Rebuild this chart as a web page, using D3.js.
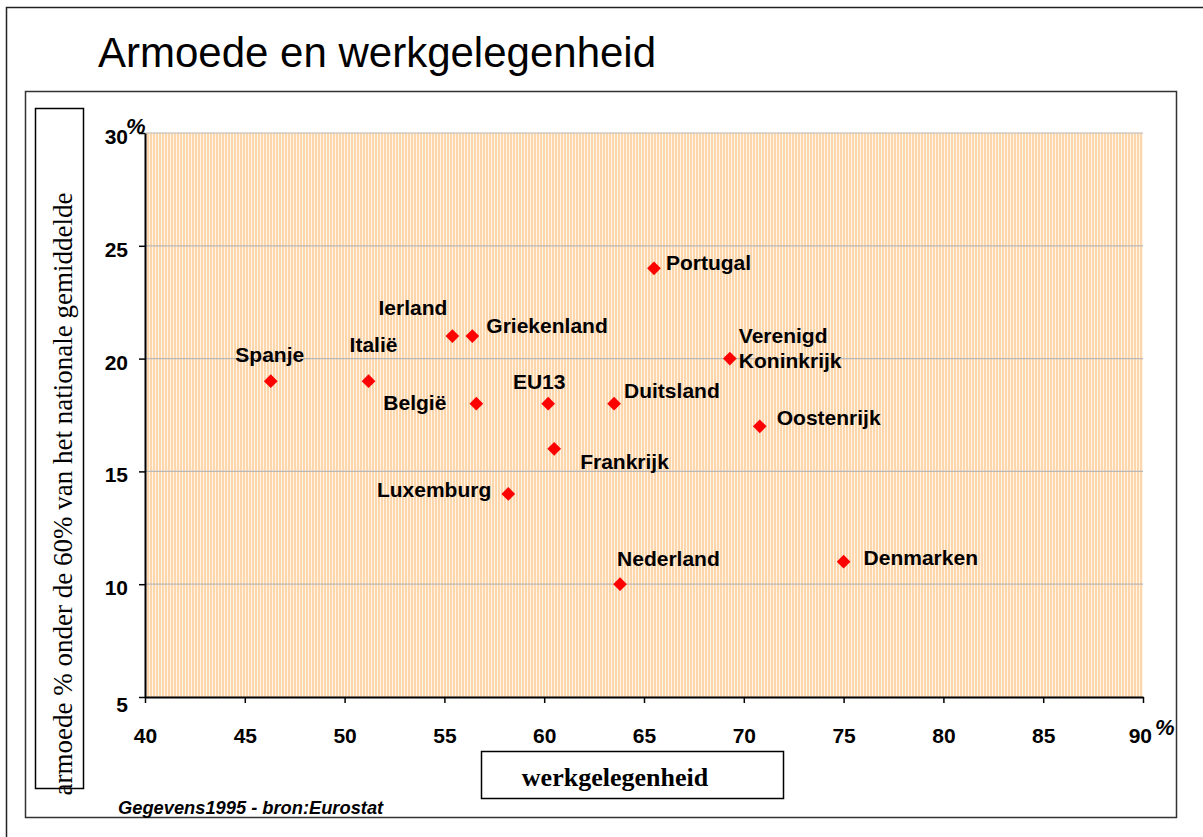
<!DOCTYPE html>
<html>
<head>
<meta charset="utf-8">
<script src="https://cdn.jsdelivr.net/npm/d3@7"></script>
<style>
  body { margin: 0; background: #fff; }
  svg { display: block; }
</style>
</head>
<body>
<svg id="chart"></svg>
<script>
// Data
const countries = ["Spanje", "Italië", "Ierland", "Griekenland", "België", "Luxemburg", "EU13",
  "Frankrijk", "Duitsland", "Nederland", "Portugal", "Verenigd Koninkrijk", "Oostenrijk", "Denmarken"];
const employment = [46.3, 51.2, 55.4, 56.4, 56.6, 58.2, 60.2, 60.5, 63.5, 63.8, 65.5, 69.3, 70.8, 75.0];
const poverty = [19, 19, 21, 21, 18, 14, 18, 16, 18, 10, 24, 20, 17, 11];
const xTicks = [40, 45, 50, 55, 60, 65, 70, 75, 80, 85, 90];
const yTicks = [5, 10, 15, 20, 25, 30];

// label placement relative to each point: [dx, dy, anchor]
const labelPlace = {
  "Spanje": [-1, -19, "middle"],
  "Italië": [5, -29, "middle"],
  "Ierland": [-5, -21, "end"],
  "Griekenland": [14, -3, "start"],
  "België": [-30, 6, "end"],
  "Luxemburg": [-17, 3, "end"],
  "EU13": [-9, -15, "middle"],
  "Frankrijk": [26, 20, "start"],
  "Duitsland": [10, -6, "start"],
  "Nederland": [-3, -18, "start"],
  "Portugal": [12, 2, "start"],
  "Verenigd Koninkrijk": [9, -16, "start"],
  "Oostenrijk": [17, -1, "start"],
  "Denmarken": [20, 3, "start"]
};

const width = 1203, height = 837;
const svg = d3.select("#chart").attr("width", width).attr("height", height);

const data = countries.map((c, i) => ({ name: c, x: employment[i], y: poverty[i] }));

// outer frame and inner chart box
svg.append("rect").attr("x", 6.5).attr("y", 7.5).attr("width", 1250).attr("height", 900)
  .attr("fill", "none").attr("stroke", "#222").attr("stroke-width", 1.5);
svg.append("rect").attr("x", 25.5).attr("y", 91.5).attr("width", 1151).attr("height", 726)
  .attr("fill", "none").attr("stroke", "#333").attr("stroke-width", 1.5);

const sans = "Arial, 'Liberation Sans', sans-serif";
const serif = "'Times New Roman', 'Liberation Serif', serif";

svg.append("text").attr("x", 98).attr("y", 67)
  .style("font-family", sans).style("font-size", "42px").text("Armoede en werkgelegenheid");

const x = d3.scaleLinear().domain([40, 90]).range([145, 1143]);
const y = d3.scaleLinear().domain([5, 30]).range([697, 133]);

// striped plot background
const defs = svg.append("defs");
const pat = defs.append("pattern").attr("id", "stripes").attr("patternUnits", "userSpaceOnUse")
  .attr("width", 3).attr("height", 10);
pat.append("rect").attr("width", 3).attr("height", 10).attr("fill", "#fff4e8");
pat.append("rect").attr("width", 2).attr("height", 10).attr("fill", "#fdd6ac");

svg.append("rect").attr("x", x(40)).attr("y", y(30)).attr("width", x(90) - x(40)).attr("height", y(5) - y(30))
  .attr("fill", "url(#stripes)");

// gridlines
svg.append("g").selectAll("line").data(yTicks.filter(d => d > 5)).join("line")
  .attr("x1", x(40)).attr("x2", x(90)).attr("y1", d => y(d)).attr("y2", d => y(d))
  .attr("stroke", "#b8b8b8").attr("stroke-width", 1.2);

const xAxis = svg.append("g").attr("transform", `translate(0,${y(5)})`)
  .call(d3.axisBottom(x).tickValues(xTicks).tickSize(6).tickSizeOuter(0).tickPadding(25));
const yAxis = svg.append("g").attr("transform", `translate(${x(40)},0)`)
  .call(d3.axisLeft(y).tickValues(yTicks).tickSize(6).tickSizeOuter(0).tickPadding(11));

[xAxis, yAxis].forEach(a => {
  a.select(".domain").attr("stroke", "#000").attr("stroke-width", 2);
  a.selectAll(".tick line").attr("stroke", "#000").attr("stroke-width", 1.5);
  a.selectAll("text").style("font-family", sans).style("font-size", "21px")
    .style("font-weight", "bold").attr("fill", "#000");
});
yAxis.selectAll(".tick text").attr("dy", d => d === 5 ? "0.7em" : "0.5em");
// pull the last x label a bit left so the % sign fits after it
xAxis.selectAll(".tick text").attr("dx", d => d === 90 ? "-0.15em" : 0);

// % signs after the axis ends
svg.append("text").attr("x", 126).attr("y", 134)
  .style("font-family", sans).style("font-size", "22px").style("font-weight", "bold")
  .style("font-style", "italic").text("%");
svg.append("text").attr("x", 1155).attr("y", 735)
  .style("font-family", sans).style("font-size", "22px").style("font-weight", "bold")
  .style("font-style", "italic").text("%");

// points
svg.append("g").selectAll("path").data(data).join("path")
  .attr("d", d3.symbol(d3.symbolDiamond2, 120))
  .attr("transform", d => `translate(${x(d.x)},${y(d.y)})`)
  .attr("fill", "#ff0000");

// labels
const labels = svg.append("g").selectAll("text").data(data).join("text")
  .attr("x", d => x(d.x) + labelPlace[d.name][0])
  .attr("y", d => y(d.y) + labelPlace[d.name][1])
  .attr("text-anchor", d => labelPlace[d.name][2])
  .style("font-family", sans).style("font-size", "21px").style("font-weight", "bold");
labels.each(function (d) {
  const parts = d.name === "Verenigd Koninkrijk" ? ["Verenigd", "Koninkrijk"] : [d.name];
  const t = d3.select(this);
  parts.forEach((p, i) => {
    t.append("tspan").attr("x", x(d.x) + labelPlace[d.name][0]).attr("dy", i ? "1.2em" : 0).text(p);
  });
});

// axis title boxes
svg.append("rect").attr("x", 35.5).attr("y", 108.5).attr("width", 48).attr("height", 680)
  .attr("fill", "#fff").attr("stroke", "#000").attr("stroke-width", 1.5);
svg.append("text").attr("transform", "translate(72,494) rotate(-90)")
  .attr("text-anchor", "middle")
  .style("font-family", serif).style("font-size", "27px")
  .text("armoede % onder de 60% van het nationale gemiddelde");

svg.append("rect").attr("x", 481.5).attr("y", 751.5).attr("width", 302).attr("height", 47)
  .attr("fill", "#fff").attr("stroke", "#000").attr("stroke-width", 1.5);
svg.append("text").attr("x", 615).attr("y", 786).attr("text-anchor", "middle")
  .style("font-family", serif).style("font-size", "26px")
  .style("font-weight", "bold").text("werkgelegenheid");

svg.append("text").attr("x", 118).attr("y", 814)
  .style("font-family", sans).style("font-size", "18.3px").style("font-weight", "bold")
  .style("font-style", "italic").text("Gegevens1995 - bron:Eurostat");
</script>
</body>
</html>
